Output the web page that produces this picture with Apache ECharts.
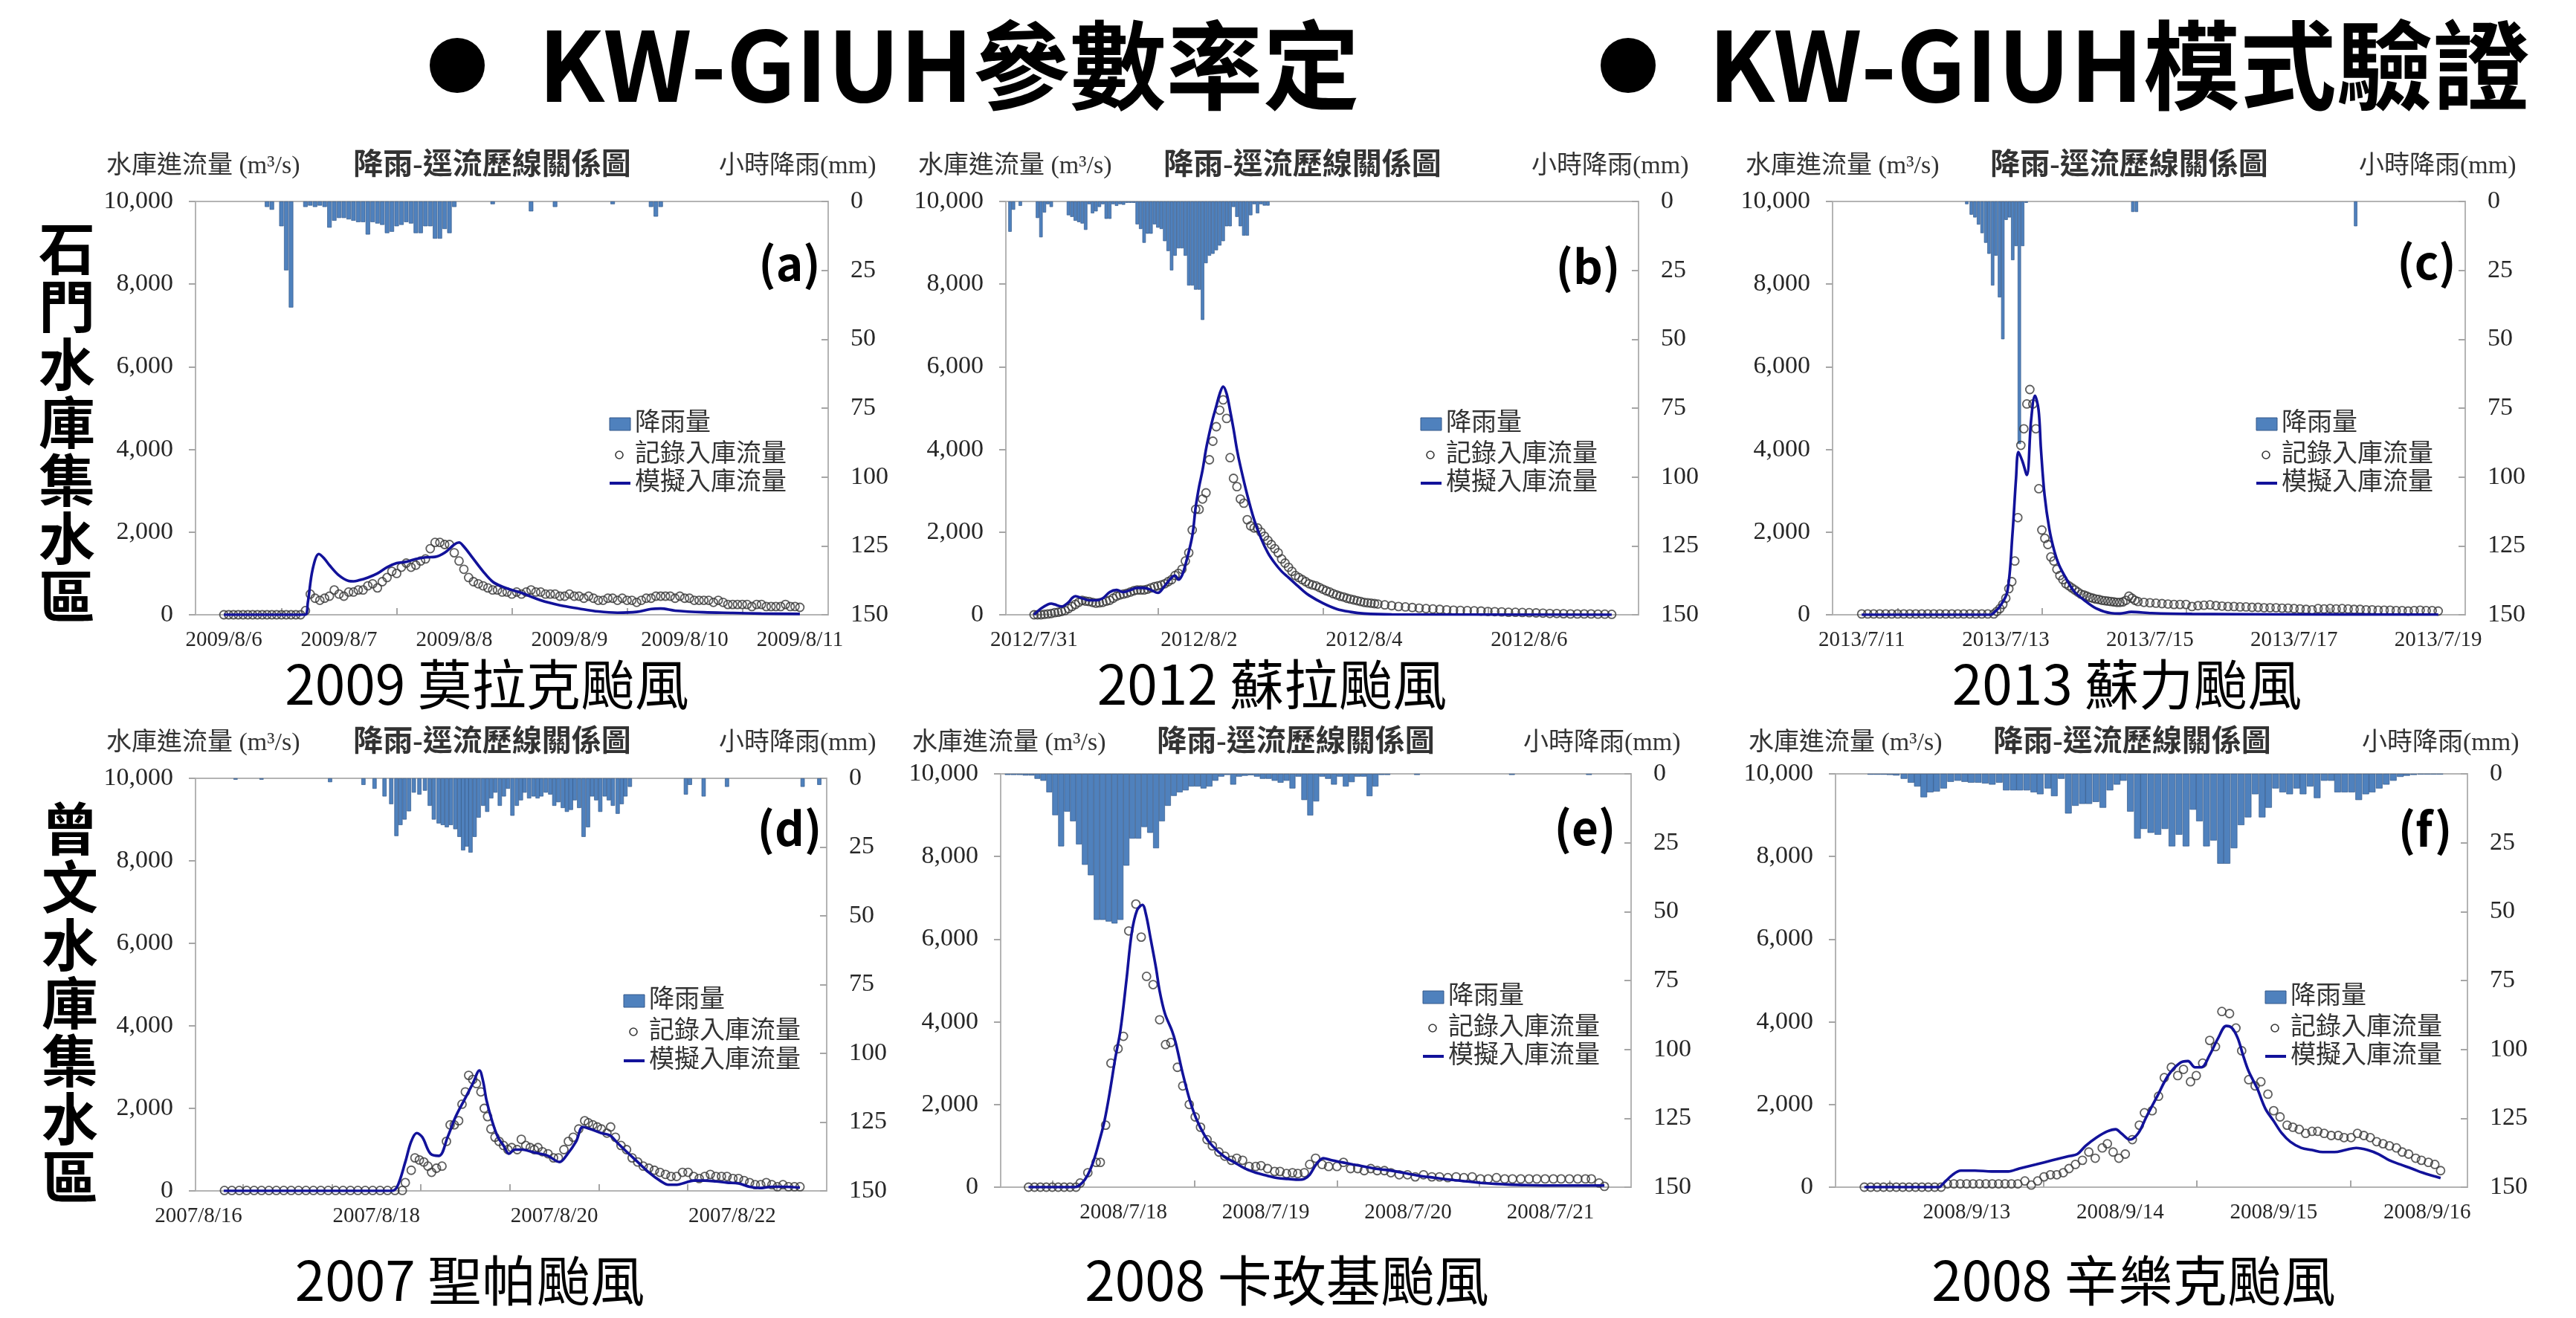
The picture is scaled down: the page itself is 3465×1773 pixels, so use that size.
<!DOCTYPE html>
<html><head><meta charset="utf-8">
<script src="https://cdn.jsdelivr.net/npm/echarts@6.0.0/dist/echarts.min.js"></script>
<style>html,body{margin:0;padding:0;background:#fff}#c{width:3465px;height:1773px}</style>
</head><body><div id="c"></div>
<script>
// ---------------- DATA (hours from first date label, flow m3/s, rain mm) ----------------
// (a) 2009 Morakot
const rainA = [[9,2],[10,3],[12,9],[13,25],[14,38.5],[17,2],[18,1.5],[19,2],[20,1.5],[21,2],[22,9.5],[23,7],[24,6],[25,6],[26,6.5],[27,7],[28,7.5],[29,7.5],[30,12],[31,7.5],[32,8],[33,8.5],[34,11.5],[35,11],[36,9],[37,8.5],[38,7.5],[39,8],[40,11.5],[41,11.5],[42,9],[43,9],[44,13.5],[45,13.5],[46,10],[47,11.5],[48,2],[56,1],[64,3.6],[69,2],[81,1],[89,2],[90,5.5],[91,2]];
const recAHourly = [0,0,0,0,0,0,0,0,0,0,0,0,0,0,0,0,0,
 100,500,400,350,400,450,600,500,450,550,550,600,600,700,750,650,800,900,1050,1000,1150,1250,1150,1200,1300,1350,1600,1750,1750,1700,1700,1500,1300,1100,900,800,750,700,650,600,
 600,550,550,500,550,500,550,600,550,550,500,500,500,450,450,500,450,450,400,450,400,350,350,400,400,350,400,350,350,300,
 350,400,400,450,450,450,450,400,450,400,400,350,350,350,350,300,350,300,250,250,250,250,250,200,250,250,200,200,200,200,250,200,200,180];
const simA = [[0,0],[16.9,0],[17.5,300],[18.5,1100],[19.8,1470],[21,1350],[22,1200],[24,950],[26,820],[27,810],[28,830],[30,900],[32,1000],[34,1150],[36,1250],[38,1280],[40,1350],[42,1390],[44,1400],[46,1500],[48,1700],[49,1750],[50,1650],[52,1350],[54,1050],[56,800],[58,680],[60,600],[62,530],[66,350],[70,230],[74,150],[78,80],[82,50],[86,70],[89,140],[91,150],[94,100],[100,60],[106,45],[112,30],[120,20]];
const labelsA = ['2009/8/6','2009/8/7','2009/8/8','2009/8/9','2009/8/10','2009/8/11'];
const labelHoursA = [0,24,48,72,96,120];
const tickHoursA = [12,36,60,84,108];

// (b) 2012 Saola
const rainB = [[-7,11],[-6,3],[-4,1.6],[1,6],[2,13],[3,4],[4,1],[5,2],[10,5],[11,5.6],[12,7],[13,7.5],[14,8],[15,10.3],[16,1],[17,4.3],[18,3.6],[19,2],[20,1],[21,6.3],[22,6.3],[23,1],[24,1.6],[25,1],[26,1.2],[27,0.5],[28,0.5],[29,0.5],[30,8.3],[31,10],[32,15],[33,11.7],[34,11.7],[35,8.3],[36,9.5],[37,10],[38,14.4],[39,18],[40,25],[41,19.7],[42,17],[43,17],[44,19.7],[45,30.5],[46,30.5],[47,32],[48,32],[49,43],[50,22.4],[51,19.7],[52,19],[53,17.7],[54,16],[55,14.4],[56,9],[57,9],[58,2],[59,5.6],[60,9],[61,12.4],[62,12.4],[63,5],[64,1],[65,4.3],[66,1],[67,1.5],[68,1.5]];
const recBHourly = [0,0,0,10,20,30,50,60,80,100,
 150,200,250,300,350,330,320,300,280,290,
 300,330,350,400,450,480,500,520,550,580,
 600,600,600,620,650,680,700,720,750,800,
 850,950,1000,1100,1300,1500,2050,2550,2550,2800,
 2950,3750,4200,4550,4950,5200,4750,3800,3300,3100,
 2800,2700,2300,2150,2100,2100,2000,1900,1800,1700,
 1600,1500,1350,1250,1150,1050,950,900,850,800,
 750,720,700,660,620,580,550,510,480,450,
 430,400,380,360,340,320,300,290,280,270,260];
const recBTail = [[102,240],[104,220],[106,200],[108,190],[110,175],[112,160],[114,150],[116,140],[118,130],[120,120],[122,110],[124,105],[126,100],[128,95],[130,90],[132,80],[134,75],[136,70],[138,60],[140,60],[142,55],[144,50],[146,45],[148,40],[150,30],[152,30],[154,25],[156,20],[158,20],[160,20],[162,20],[164,15],[166,15],[168,10]];
const simB = [[0,0],[2,150],[4,250],[5,270],[6,250],[8,200],[10,300],[11,400],[12,450],[14,400],[16,350],[18,350],[20,400],[22,550],[24,600],[26,550],[28,600],[30,650],[32,650],[34,600],[36,530],[38,700],[40,900],[41,950],[42,850],[43,950],[44,1200],[46,1900],[47,2600],[48,3100],[49,3500],[50,4000],[51,4400],[52,4750],[53,5050],[54,5350],[55,5520],[56,5350],[57,4950],[58,4500],[59,4000],[60,3600],[62,2900],[64,2300],[66,1850],[68,1500],[70,1250],[72,1050],[74,900],[76,750],[78,600],[80,470],[84,280],[88,140],[92,70],[96,30],[104,10],[168,0]];
const labelsB = ['2012/7/31','2012/8/2','2012/8/4','2012/8/6'];
const labelHoursB = [0,48,96,144];
const tickHoursB = [36,84,132];

// (c) 2013 Soulik
const rainC = [[35,1],[36.5,4.8],[37.7,5.8],[38.9,8.4],[40.1,11.5],[41.3,15],[42.4,19],[43.6,30.5],[44.7,19.7],[45.9,34.8],[47,50],[48.1,6.7],[49.2,5.8],[50.3,21.3],[51.4,16.2],[52.5,88],[53.6,16.2],[54.8,0.5],[90.3,3.8],[91.5,3.8],[164.5,9]];
const recC = [[0,20],[2,20],[4,20],[6,20],[8,20],[10,20],[12,20],[14,20],[16,20],[18,20],[20,20],[22,20],[24,20],[26,20],[28,20],[30,20],[32,20],[34,20],[36,20],[38,20],[40,20],[42,20],[44,20],
 [45,80],[46,150],[47,250],[48,400],[49,630],[50,800],[51,1300],[52,2350],[53,4100],[54,4500],[55,5100],[56,5450],[57,5100],[58,4500],[59,3050],[60,2050],[61,1850],[62,1700],[63,1400],[64,1300],[65,1100],[66,950],[67,850],[68,750],[69,700],[70,650],[71,600],[72,550],[73,500],[74,480],[75,450],[76,420],[77,400],[78,380],[79,370],[80,350],[81,340],[82,330],[83,320],[84,310],[85,300],[86,300],[87,310],[88,350],[89,450],[90,400],[91,350],[92,320],
 [94,300],[96,290],[98,280],[100,270],[102,260],[104,250],[106,250],[108,250],[110,200],[112,220],[114,230],[116,240],[118,220],[120,210],[122,200],[124,200],[126,190],[128,190],[130,180],[132,180],[134,170],[136,170],[138,170],[140,160],[142,160],[144,150],[146,140],[148,130],[150,120],[152,150],[154,140],[156,150],[158,140],[160,150],[162,140],[164,130],[166,130],[168,120],[170,120],[172,110],[174,110],[176,110],[178,100],[180,100],[182,90],[184,100],[186,110],[188,100],[190,100],[192,90]];
const simC = [[0,0],[43,0],[44.3,70],[46,200],[48.5,560],[50.2,1940],[51.4,3300],[52.2,3940],[53.5,3720],[55,3380],[56.4,4690],[57.7,5300],[58.9,4960],[59.7,4010],[60.9,2900],[62.5,2070],[64.2,1530],[65.8,1190],[68.3,850],[70.8,560],[74,360],[78.2,150],[83,40],[86,30],[89.8,70],[96.5,40],[110,20],[140,10],[192,5]];
const labelsC = ['2013/7/11','2013/7/13','2013/7/15','2013/7/17','2013/7/19'];
const labelHoursC = [0,48,96,144,192];
const tickHoursC = [12,60,108,156];

// (d) 2007 Sepat
const rainD = [[10,0.5],[17,0.5],[35.5,1.4],[44.5,2.4],[47.5,3.8],[50.2,6.6],[52,9.4],[53.4,21],[54.5,17],[55.6,15],[56.8,12],[58.1,5.2],[59.6,5.9],[61.1,4.5],[62.4,10],[63.5,15],[64.8,16.4],[65.9,17],[67,17.8],[68.1,17],[69.3,18.5],[70.4,21.3],[71.4,26.2],[72.4,24.8],[73.4,27],[74.5,21.3],[75.6,14.3],[76.8,10],[77.9,12.2],[79,7.3],[80.1,5.2],[81.3,10],[82.4,6.6],[83.5,3.8],[84.7,13.6],[85.9,10],[87,8],[88,5.2],[89.2,7.3],[90.4,6.6],[91.5,7.3],[92.5,6.6],[93.7,5.2],[94.9,5.9],[96,10],[97.1,8.7],[98.3,10.8],[99.4,12.2],[100.5,11.5],[101.5,8],[102.7,10.8],[103.9,21.3],[105.1,17.8],[106.2,6.6],[107.3,8],[108.4,12.2],[109.6,6.6],[110.7,8],[111.8,10],[113.1,12.9],[114.2,9.4],[115.2,6.6],[116.4,3.1],[131.5,5.9],[132.6,2.4],[136.3,6.6],[142.6,3.1],[163,3.1],[167.5,2.4]];
const recD = [[7,10],[9,10],[11,10],[13,10],[15,10],[17,10],[19,10],[21,10],[23,10],[25,10],[27,10],[29,10],[31,10],[33,10],[35,10],[37,10],[39,10],[41,10],[43,10],[45,10],[47,10],[49,10],[51,10],[53,10],[55,10],
 [55.8,200],[57.4,500],[58.4,800],[59.6,750],[60.8,700],[61.9,600],[62.9,450],[64.2,550],[65.7,600],[66.9,1200],[67.9,1600],[69,1600],[70.2,1700],[71.1,2100],[72,2400],[72.9,2800],[74,2700],[75,2600],[76.2,2400],[77.1,2000],[78,1800],[78.9,1500],[80,1300],[81.1,1200],[82.3,1100],[83.5,1000],[84.5,1050],[86,1000],[87.1,1250],[88.3,1100],[89.5,1050],[90.6,1000],[91.6,1050],[92.8,950],[94.3,900],[95.8,800],[97.1,800],[98.6,1000],[99.8,1200],[101.1,1300],[102.6,1500],[104.2,1700],[105.2,1650],[106.4,1600],[107.6,1550],[108.7,1500],[110.2,1400],[111.2,1550],[112.5,1300],[114,1100],[115.5,1000],[117,800],[118.5,700],[120,600],[121.5,550],[123,500],[124.5,450],[126,400],[127.5,350],[129,350],[130.6,450],[132.1,450],[133.6,350],[135.1,300],[136.6,350],[138.1,400],[139.6,350],[141.1,350],[142.6,350],[144.2,300],[145.7,300],[147.2,250],[148.7,200],[150.2,150],[151.7,150],[153.2,200],[154.7,150],[156.2,100],[157.7,150],[159.2,100],[160.8,100],[162.3,100]];
const simD = [[6.8,0],[52,0],[53.6,100],[55.8,700],[57.4,1200],[58.9,1400],[60.4,1300],[62.6,900],[64.9,850],[67.2,1300],[69.4,1800],[71.7,2200],[74,2600],[75.8,2920],[76.8,2650],[77.7,2200],[79.2,1700],[80.8,1300],[82.3,1100],[83.8,900],[85.3,1000],[87.5,1000],[89.8,950],[92.1,900],[94.3,850],[97.4,700],[99.6,900],[101.9,1200],[103.7,1550],[105.7,1500],[108.7,1400],[110.9,1350],[113.2,1150],[115.5,950],[118.5,700],[121.5,450],[124.5,250],[126.8,150],[129.1,150],[131.3,200],[133.6,250],[136.6,250],[139.6,230],[142.6,200],[145.7,180],[148.7,100],[151.7,70],[154.7,100],[157.7,100],[162.3,80]];
const labelsD = ['2007/8/16','2007/8/18','2007/8/20','2007/8/22'];
const labelHoursD = [0,48,96,144];
const tickHoursD = [12,36,60,84,108,132,156];

// (e) 2008 Kalmaegi
const rainE = [[-19.5,0.4],[-18.5,0.4],[-17.5,0.4],[-16.5,0.6],[-15.5,0.6],[-14.5,1.8],[-13.5,2.5],[-12.5,6.7],[-11.5,15],[-10.5,26.3],[-9.5,13.7],[-8.5,17.2],[-7.5,25.6],[-6.5,33],[-5.5,36.8],[-4.5,53],[-3.5,53],[-2.5,53.6],[-1.5,54.3],[-0.5,53],[0.5,33.3],[1.5,23.5],[2.5,23.5],[3.5,19.3],[4.5,21.4],[5.5,27],[6.5,17.2],[7.5,11.6],[8.5,8],[9.5,6.7],[10.5,6],[11.5,4.6],[12.5,4.6],[13.5,5.3],[14.5,4.6],[15.5,2.5],[16.5,1],[17.5,0.4],[18.5,3.9],[19.5,1],[20.5,0.7],[21.5,0.5],[22.5,1],[23.5,1.8],[24.5,1.8],[25.5,2.5],[26.5,3.2],[27.5,2.5],[28.5,5.3],[29.5,1],[30.5,9.5],[31.5,15.1],[32.5,10],[33.5,1],[34.5,1.8],[35.5,3.9],[36.5,1],[37.5,4.6],[38.5,3],[39.5,1],[40.5,1],[41.5,8.1],[42.5,4.6],[43.5,0.4],[44.5,0.4],[49.5,0.4],[65.5,0.4],[78.5,0.4]];
const recE = [[-16,0],[-15,0],[-14,0],[-13,0],[-12,0],[-11,0],[-10,0],[-9,0],[-8,0],[-7.3,100],[-6,350],[-4.6,600],[-3.9,600],[-3,1500],[-2.1,3000],[-0.9,3350],[0,3650],[0.9,6200],[2.1,6850],[3,6050],[3.9,5100],[5,4900],[6.1,4050],[7.1,3450],[8,3500],[9.1,2900],[10,2450],[11.1,2000],[12.1,1700],[13,1450],[14.1,1150],[15,1000],[16.1,850],[17.1,750],[18.2,650],[19.1,700],[20.1,650],[21.2,500],[22.3,500],[23.2,520],[24.3,450],[25.5,380],[26.4,380],[27.5,330],[28.5,350],[29.4,330],[30.5,350],[31.4,550],[32.4,700],[33.5,550],[34.6,500],[36,500],[37.1,600],[38.3,450],[39.5,450],[40.6,400],[41.7,450],[42.8,400],[44,400],[45.1,350],[46.5,300],[47.9,300],[49.2,250],[50.6,300],[52,250],[53.3,250],[54.7,230],[56.1,250],[57.4,230],[58.8,250],[60.2,200],[61.5,200],[62.9,230],[64.3,200],[65.6,200],[67,200],[68.4,200],[69.7,200],[71.1,200],[72.5,200],[73.8,200],[75.2,200],[76.6,200],[77.9,200],[78.9,200],[80.2,100],[81.1,20]];
const simE = [[-16,0],[-8.2,0],[-7,100],[-6,300],[-5,650],[-4,1150],[-3.2,1600],[-2.3,2300],[-1.4,3100],[-0.5,3800],[0.5,5000],[1.4,6150],[2.3,6700],[3.2,6830],[3.8,6600],[4.6,6000],[5.5,5300],[6.1,4750],[7,4200],[8.2,3780],[8.8,3500],[10,2750],[11.2,2100],[12.3,1650],[13.7,1250],[15,1000],[16.9,750],[18.7,600],[20.5,450],[22.3,350],[24.2,280],[26,220],[27.8,200],[29.6,180],[30.5,200],[31.4,300],[32.5,550],[33.7,700],[35.1,650],[36.9,600],[38.7,550],[40.6,500],[42.4,450],[44.2,420],[46,380],[47.9,330],[49.7,280],[52.4,230],[55.2,180],[57.9,140],[60.6,100],[64.3,70],[67.9,50],[73.4,40],[77,40],[81.1,40]];
const labelsE = ['2008/7/18','2008/7/19','2008/7/20','2008/7/21'];
const labelHoursE = [0,24,48,72];
const tickHoursE = [-12,12,36,60];

// (f) 2008 Sinlaku
const rainF = [[-15,0.3],[-14,0.3],[-13,0.3],[-12,0.4],[-11,0.6],[-9.8,1.8],[-8.7,3.2],[-7.7,4.6],[-6.7,8.5],[-5.7,6.7],[-4.7,6.4],[-3.6,5.3],[-2.5,2.9],[-1.4,2.5],[-0.3,2.9],[0.7,3.2],[1.8,3.2],[2.9,3.5],[4,3.9],[5.1,3.2],[6.2,6],[7.3,6],[8.3,6],[9.4,6],[10.5,6.7],[11.5,7.4],[12.7,5.3],[13.7,8.1],[14.8,1.8],[15.9,14.4],[17,11.6],[18.1,10.9],[19.1,10.9],[20.2,10.2],[21.3,12.3],[22.4,6],[23.5,3.9],[24.5,2.5],[25.6,13.7],[26.7,23.5],[27.7,20],[28.8,21.4],[29.9,22.1],[31,20],[32.1,26.3],[33.2,22.1],[34.3,26.3],[35.4,13],[36.4,17.2],[37.5,26.3],[38.6,24.2],[39.7,32.6],[40.7,32.6],[41.8,27],[42.9,18.6],[44,15.8],[45.1,7.4],[46.2,15.8],[47.2,12.3],[48.3,5.3],[49.4,6.7],[50.5,7.4],[51.6,5.3],[52.6,7.4],[53.7,4.6],[54.8,8.8],[55.9,2.5],[57,2.5],[58,6.7],[59.1,6.7],[60.2,6.7],[61.3,9.5],[62.4,7.4],[63.4,6.7],[64.5,5.3],[65.6,3.9],[66.7,2.5],[67.8,1.1],[68.8,0.7],[69.9,0.4],[71,0.2],[72,0.2],[73,0.2],[74,0.2]];
const recF = [[-16,0],[-15,0],[-14,0],[-13,0],[-12,0],[-11,0],[-10,0],[-9,0],[-8,0],[-7,0],[-6,0],[-5,0],[-4,0],
 [-3,80],[-2,80],[-1,80],[0,80],[1,80],[2,80],[3,80],[4,80],[5,80],[6,80],[7,80],[8,80],
 [9.1,150],[10.1,50],[11.1,150],[12.1,250],[13.1,300],[14.1,300],[15.1,350],[16,450],[17,550],[18.1,650],[19.1,850],[20.1,700],[21.2,950],[22,1050],[22.9,850],[23.8,700],[24.8,800],[25.9,1150],[27,1500],[27.8,1800],[29,1850],[30,2200],[30.9,2650],[32,2900],[33,2700],[33.9,2850],[35,2550],[35.9,2700],[36.9,3000],[38,3550],[38.9,3400],[39.9,4250],[41.1,4200],[42.1,3850],[43,3300],[44.1,2600],[45.1,2450],[46,2550],[47.1,2250],[48,1850],[49,1700],[50.1,1500],[51,1450],[52,1400],[53,1300],[54,1350],[54.9,1350],[55.9,1300],[57,1250],[58.1,1250],[59,1200],[60.1,1200],[61.1,1300],[62.1,1250],[63.1,1200],[64.1,1100],[65.1,1050],[66.1,1000],[67.2,950],[68.1,850],[69.1,800],[70.2,700],[71.1,650],[72.2,600],[73.2,550],[74.1,400]];
const simF = [[-16,0],[-4.3,0],[-3.9,50],[-2.2,300],[-0.9,400],[1.3,400],[3.9,380],[6.5,380],[8.2,450],[10.8,550],[13.4,650],[16,750],[17.3,800],[18.6,1000],[20.3,1200],[22,1350],[23.3,1400],[24.2,1300],[25.5,1150],[26.8,1300],[28.1,1700],[29.8,2200],[31.5,2700],[33.3,3000],[34.6,3050],[35.7,2900],[36.7,2900],[38,3200],[39.3,3600],[40.6,3900],[41.5,3850],[42.4,3600],[43.2,3200],[44.1,2800],[45.4,2400],[46.7,1900],[48,1600],[49.3,1300],[50.6,1100],[52.3,950],[54,900],[55.7,850],[57.5,850],[59.2,900],[60.9,950],[62.7,900],[64.4,800],[66.1,650],[67.8,550],[69.6,450],[71.3,350],[73,270],[74.1,220]];
const labelsF = ['2008/9/13','2008/9/14','2008/9/15','2008/9/16'];
const labelHoursF = [0,24,48,72];
const tickHoursF = [-12,12,36,60];

const legendNames = ['降雨量','記錄入庫流量','模擬入庫流量'];
const subtitles = ['2009 莫拉克颱風','2012 蘇拉颱風','2013 蘇力颱風','2007 聖帕颱風','2008 卡玫基颱風','2008 辛樂克颱風'];
const tags = ['(a)','(b)','(c)','(d)','(e)','(f)'];

// ---------------- BUILD ----------------
const hourly = (start, vals) => vals.map((v, i) => [start + i, v]);
const SERIF = "'Liberation Serif','Noto Sans CJK TC',serif";
const SANS = "'Noto Sans CJK TC','Noto Sans',sans-serif";

const panels = [
 {rain:rainA, rec:hourly(0,recAHourly), sim:simA, labs:labelsA, labH:labelHoursA, ticks:tickHoursA, xMin:-5.9, xMax:125.9,
  g:[263,271,851,556], barW:6, hdr:[143,662,967], hdrY:224, leg:820, legY:[570,612,650], tag:[1062,354], sub:[655,920]},
 {rain:rainB, rec:hourly(0,recBHourly).concat(recBTail), sim:simB, labs:labelsB, labH:labelHoursB, ticks:tickHoursB, xMin:-8.2, xMax:175.8,
  g:[1353,271,851,556], barW:4.6, hdr:[1235,1752,2060], hdrY:224, leg:1911, legY:[570,612,650], tag:[2136,358], sub:[1711,920]},
 {rain:rainC, rec:recC, sim:simC, labs:labelsC, labH:labelHoursC, ticks:tickHoursC, xMin:-9.7, xMax:201,
  g:[2465,271,851,556], barW:4.5, hdr:[2348,2864,3173], hdrY:224, leg:3035, legY:[570,612,650], tag:[3264,352], sub:[2861,920]},
 {rain:rainD, rec:recD, sim:simD, labs:labelsD, labH:labelHoursD, ticks:tickHoursD, xMin:-0.8, xMax:169.5,
  g:[263,1047,849,555], barW:5.6, hdr:[143,662,967], hdrY:1000, leg:839, legY:[1346,1388,1427], tag:[1062,1114], sub:[632,1722]},
 {rain:rainE, rec:recE, sim:simE, labs:labelsE, labH:labelHoursE, ticks:tickHoursE, xMin:-20.7, xMax:85.6,
  g:[1346,1041,848,556], barW:8, hdr:[1227,1743,2049], hdrY:1000, leg:1914, legY:[1341,1383,1421], tag:[2132,1113], sub:[1731,1722]},
 {rain:rainF, rec:recF, sim:simF, labs:labelsF, labH:labelHoursF, ticks:tickHoursF, xMin:-20.5, xMax:78.3,
  g:[2469,1041,850,556], barW:9, hdr:[2352,2868,3177], hdrY:1000, leg:3047, legY:[1341,1383,1421], tag:[3262,1115], sub:[2870,1722]}
];

const AX = '#b4b4b4', LBL = '#262626', BAR = '#4f81bd', BARB = '#34598a', SIM = '#12129a', REC = '#363636';
const grid = [], xAxis = [], yAxis = [], series = [], graphic = [];

function T(x, y, text, size, weight, family, align, fill, extra) {
  const s = Object.assign({text:text, fontSize:size, fontWeight:weight, fontFamily:family, fill:fill||'#222',
    align:align, verticalAlign:'middle', textAlign:align, textVerticalAlign:'middle'}, extra||{});
  graphic.push({type:'text', x:x, y:y, z:100, style:s});
}

panels.forEach((p, i) => {
  grid.push({left:p.g[0], top:p.g[1], width:p.g[2], height:p.g[3], show:true, borderColor:AX, borderWidth:2, backgroundColor:'transparent'});
  xAxis.push({type:'value', gridIndex:i, min:p.xMin, max:p.xMax,
    axisLine:{show:true, onZero:false, lineStyle:{color:AX, width:2}},
    axisTick:{show:true, inside:true, length:9, customValues:p.ticks, lineStyle:{color:'#a6a6a6', width:2}},
    axisLabel:{show:true, customValues:p.labH, formatter:(v)=>{const k=p.labH.indexOf(v); return k>=0?p.labs[k]:'';},
      fontFamily:SERIF, fontSize:29, color:LBL, margin:20},
    splitLine:{show:false}});
  yAxis.push({type:'value', gridIndex:i, position:'left', min:0, max:10000, interval:2000,
    axisLine:{show:true, onZero:false, lineStyle:{color:AX, width:2}},
    axisTick:{show:true, length:9, lineStyle:{color:'#a6a6a6', width:2}},
    axisLabel:{formatter:(v)=>v.toLocaleString('en-US'), fontFamily:SERIF, fontSize:34, color:LBL, margin:30},
    splitLine:{show:false}});
  yAxis.push({type:'value', gridIndex:i, position:'right', min:0, max:150, interval:25, inverse:true,
    axisLine:{show:true, onZero:false, lineStyle:{color:AX, width:2}},
    axisTick:{show:true, inside:true, length:9, lineStyle:{color:'#a6a6a6', width:2}},
    axisLabel:{fontFamily:SERIF, fontSize:34, color:LBL, margin:30},
    splitLine:{show:false}});
  series.push({name:legendNames[0], type:'bar', xAxisIndex:i, yAxisIndex:2*i+1, data:p.rain, barWidth:p.barW,
    itemStyle:{color:BAR, borderColor:BARB, borderWidth:0.7}, z:1, silent:true});
  series.push({name:legendNames[1], type:'scatter', xAxisIndex:i, yAxisIndex:2*i, data:p.rec, symbol:'circle', symbolSize:11,
    itemStyle:{color:'rgba(255,255,255,0)', borderColor:REC, borderWidth:1.8}, z:2, silent:true});
  series.push({name:legendNames[2], type:'line', xAxisIndex:i, yAxisIndex:2*i, data:p.sim, smooth:0.35, showSymbol:false,
    lineStyle:{color:SIM, width:3.6}, z:3, silent:true});

  // header texts
  T(p.hdr[0], p.hdrY, '水庫進流量 (m³/s)', 34, 'normal', SERIF, 'left', '#333');
  T(p.hdr[1], p.hdrY, '降雨-逕流歷線關係圖', 40, 'bold', SERIF, 'center', '#333');
  T(p.hdr[2], p.hdrY, '小時降雨(mm)', 34, 'normal', SERIF, 'left', '#333');
  // legend
  const L = p.leg, ly = p.legY;
  graphic.push({type:'rect', z:100, shape:{x:L, y:ly[0]-8, width:28, height:17}, style:{fill:BAR, stroke:BARB, lineWidth:1}});
  graphic.push({type:'circle', z:100, shape:{cx:L+13, cy:ly[1], r:5}, style:{fill:'none', stroke:REC, lineWidth:1.6}});
  graphic.push({type:'line', z:100, shape:{x1:L, y1:ly[2], x2:L+28, y2:ly[2]}, style:{stroke:SIM, lineWidth:4}});
  legendNames.forEach((n, k) => T(L+34, ly[k], n, 34, 'normal', SERIF, 'left', '#333'));
  // panel tag & subtitle
  T(p.tag[0], p.tag[1], tags[i], 62, 'bold', SANS, 'center', '#000');
  T(p.sub[0], p.sub[1], subtitles[i], 73, 'normal', SANS, 'center', '#000');
});

// main titles
graphic.push({type:'circle', z:100, shape:{cx:615, cy:88, r:37}, style:{fill:'#000'}});
graphic.push({type:'circle', z:100, shape:{cx:2190, cy:88, r:37}, style:{fill:'#000'}});
T(724, 88, 'KW-GIUH參數率定', 130, 'bold', SANS, 'left', '#000');
T(2298, 88, 'KW-GIUH模式驗證', 130, 'bold', SANS, 'left', '#000');
// row labels
T(90, 568, '石\n門\n水\n庫\n集\n水\n區', 76, 'bold', SANS, 'center', '#000', {lineHeight:78});
T(94, 1349, '曾\n文\n水\n庫\n集\n水\n區', 76, 'bold', SANS, 'center', '#000', {lineHeight:78});

const chart = echarts.init(document.getElementById('c'), null, {renderer:'canvas', width:3465, height:1773});
chart.setOption({backgroundColor:'#fff', animation:false, grid, xAxis, yAxis, series, graphic});
</script></body></html>
